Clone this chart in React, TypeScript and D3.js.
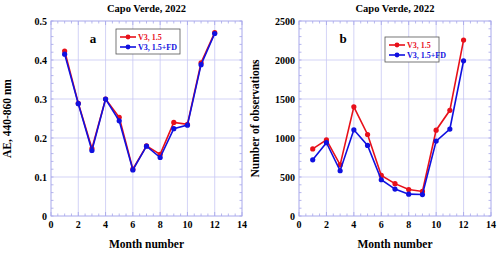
import * as d3 from 'd3';
import { useRef, useEffect } from 'react';

const months = [1, 2, 3, 4, 5, 6, 7, 8, 9, 10, 11, 12];

// panel a: Angstrom exponent
const aeV3 = [0.423, 0.289, 0.173, 0.300, 0.253, 0.120, 0.180, 0.158, 0.240, 0.235, 0.393, 0.470];
const aeV3FD = [0.415, 0.288, 0.168, 0.300, 0.244, 0.118, 0.179, 0.150, 0.224, 0.233, 0.388, 0.468];

// panel b: number of observations
const nV3 = [860, 975, 655, 1400, 1045, 520, 415, 340, 315, 1100, 1355, 2255];
const nV3FD = [720, 940, 580, 1105, 905, 465, 345, 280, 275, 960, 1115, 1990];

const xTicks = [0, 2, 4, 6, 8, 10, 12, 14];
const aeTicks = [0, 0.1, 0.2, 0.3, 0.4, 0.5];
const nTicks = [0, 500, 1000, 1500, 2000, 2500];

const seriesNames = ['V3, 1.5', 'V3, 1.5+FD'];
const seriesColors = ['#e8101a', '#1010e0'];

const FONT = "'Liberation Serif', 'Times New Roman', serif";
const GRID = '#c8c8f4';

type Panel = {
  left: number;
  right: number;
  letter: string;
  yLabel: string;
  yMax: number;
  yTicks: number[];
  yMinor: number;
  yFormat: (d: number) => string;
  red: number[];
  blue: number[];
  legendX: number;
  legendY: number;
  legendW: number;
  letterX: number;
};

const App = () => {
  const svgRef = useRef<SVGSVGElement>(null);

  useEffect(() => {
    const svg = d3.select(svgRef.current);
    svg.selectAll('*').remove();
    const top = 21;
    const bottom = 216;

    const panels: Panel[] = [
      {
        left: 51, right: 242, letter: 'a', yLabel: 'AE, 440-860 nm', yMax: 0.5, yTicks: aeTicks, yMinor: 0.02,
        yFormat: d => (d === 0 ? '0' : d.toFixed(1)), red: aeV3, blue: aeV3FD,
        legendX: 116, legendY: 29, legendW: 64, letterX: 93,
      },
      {
        left: 299, right: 491, letter: 'b', yLabel: 'Number of observations', yMax: 2500, yTicks: nTicks, yMinor: 100,
        yFormat: d => String(d), red: nV3, blue: nV3FD,
        legendX: 385, legendY: 37, legendW: 54, letterX: 343,
      },
    ];

    panels.forEach(p => {
      const x = d3.scaleLinear().domain([0, 14]).range([p.left, p.right]);
      const y = d3.scaleLinear().domain([0, p.yMax]).range([bottom, top]);
      const g = svg.append('g');

      // grid
      g.selectAll('.gx').data(xTicks.slice(1, -1)).enter().append('line')
        .attr('x1', d => x(d)).attr('x2', d => x(d)).attr('y1', top).attr('y2', bottom)
        .attr('stroke', GRID).attr('stroke-width', 0.8);
      g.selectAll('.gy').data(p.yTicks.slice(1, -1)).enter().append('line')
        .attr('y1', d => y(d)).attr('y2', d => y(d)).attr('x1', p.left).attr('x2', p.right)
        .attr('stroke', GRID).attr('stroke-width', 0.8);

      // minor ticks (inward, on all four sides)
      const xMinor = d3.range(0, 14.01, 0.5);
      const yMinor = d3.range(0, p.yMax + p.yMinor / 2, p.yMinor);
      xMinor.forEach(v => {
        const len = xTicks.includes(v) ? 4 : 2.5;
        g.append('line').attr('x1', x(v)).attr('x2', x(v)).attr('y1', bottom).attr('y2', bottom - len)
          .attr('stroke', '#9a9ae6').attr('stroke-width', 0.7);
        g.append('line').attr('x1', x(v)).attr('x2', x(v)).attr('y1', top).attr('y2', top + len)
          .attr('stroke', '#9a9ae6').attr('stroke-width', 0.7);
      });
      yMinor.forEach(v => {
        g.append('line').attr('y1', y(v)).attr('y2', y(v)).attr('x1', p.left).attr('x2', p.left + 2.5)
          .attr('stroke', '#9a9ae6').attr('stroke-width', 0.7);
        g.append('line').attr('y1', y(v)).attr('y2', y(v)).attr('x1', p.right).attr('x2', p.right - 2.5)
          .attr('stroke', '#9a9ae6').attr('stroke-width', 0.7);
      });

      // frame
      g.append('rect').attr('x', p.left).attr('y', top).attr('width', p.right - p.left).attr('height', bottom - top)
        .attr('fill', 'none').attr('stroke', '#a8a8ec').attr('stroke-width', 1);

      // tick labels
      g.selectAll('.xl').data(xTicks).enter().append('text')
        .attr('x', d => x(d)).attr('y', bottom + 12).attr('text-anchor', 'middle')
        .style('font', `bold 10px ${FONT}`).text(d => d);
      g.selectAll('.yl').data(p.yTicks).enter().append('text')
        .attr('x', p.left - 4).attr('y', d => y(d) + 3.5).attr('text-anchor', 'end')
        .style('font', `bold 10px ${FONT}`).text(d => p.yFormat(d));

      // titles
      g.append('text').attr('x', (p.left + p.right) / 2).attr('y', 12).attr('text-anchor', 'middle')
        .style('font', `bold 10.5px ${FONT}`).text('Capo Verde, 2022');
      g.append('text').attr('x', (p.left + p.right) / 2).attr('y', 248).attr('text-anchor', 'middle')
        .style('font', `bold 11.5px ${FONT}`).text('Month number');
      g.append('text').attr('transform', `translate(${p.left - 40},${(top + bottom) / 2}) rotate(-90)`)
        .attr('text-anchor', 'middle').style('font', `bold 11.5px ${FONT}`).text(p.yLabel);
      g.append('text').attr('x', p.letterX).attr('y', 43).attr('text-anchor', 'middle')
        .style('font', `bold 13px ${FONT}`).text(p.letter);

      // series
      const line = d3.line<number>().x((_, i) => x(months[i])).y(d => y(d));
      [p.red, p.blue].forEach((vals, si) => {
        g.append('path').datum(vals).attr('d', line).attr('fill', 'none')
          .attr('stroke', seriesColors[si]).attr('stroke-width', 1.6);
        g.selectAll(`.pt${si}`).data(vals).enter().append('circle')
          .attr('cx', (_, i) => x(months[i])).attr('cy', d => y(d)).attr('r', 2.6)
          .attr('fill', seriesColors[si]);
      });

      // legend
      const lg = g.append('g').attr('transform', `translate(${p.legendX},${p.legendY})`);
      lg.append('rect').attr('width', p.legendW).attr('height', 25).attr('fill', 'white')
        .attr('stroke', '#555').attr('stroke-width', 0.8);
      seriesNames.forEach((name, i) => {
        const ly = 8 + i * 10;
        lg.append('line').attr('x1', 4).attr('x2', 20).attr('y1', ly).attr('y2', ly)
          .attr('stroke', seriesColors[i]).attr('stroke-width', 1.6);
        lg.append('circle').attr('cx', 12).attr('cy', ly).attr('r', 2.4).attr('fill', seriesColors[i]);
        lg.append('text').attr('x', 22).attr('y', ly + 3).attr('fill', seriesColors[i])
          .style('font', `bold 8px ${FONT}`).text(name);
      });
    });
  }, []);

  return (
    <svg ref={svgRef} width={500} height={254}
      style={{ position: 'absolute', left: 0, top: 0, background: 'white' }} />
  );
};

export default App;
